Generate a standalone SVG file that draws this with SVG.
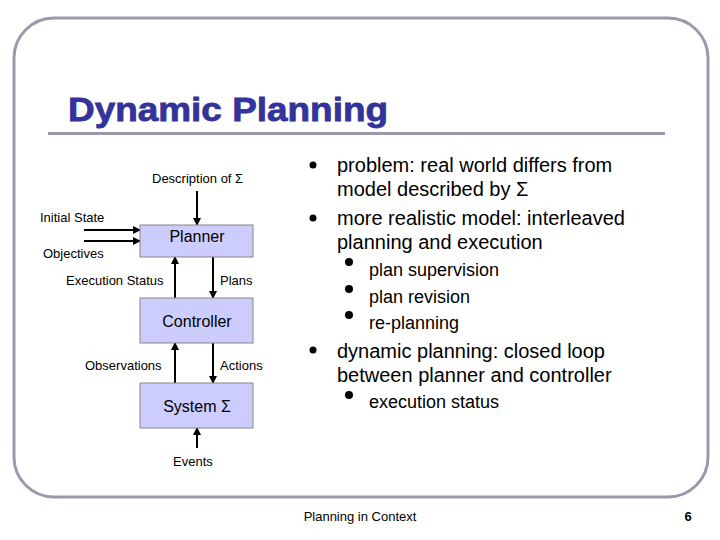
<svg xmlns="http://www.w3.org/2000/svg" width="720" height="540" viewBox="0 0 720 540">
<defs>
<marker id="ah" markerWidth="8" markerHeight="8" refX="7" refY="4" orient="auto" markerUnits="userSpaceOnUse"><path d="M0,0 L8,4 L0,8 z" fill="#000"/></marker>
<style>
.box{fill:#ccccff;stroke:#888;stroke-width:1}
.bt{font-family:"Liberation Sans",Arial,sans-serif;font-size:16px;text-anchor:middle;fill:#000}
.lb{font-family:"Liberation Sans",Arial,sans-serif;font-size:13px;fill:#000}
.b1{font-family:"Liberation Sans",Arial,sans-serif;font-size:20px;fill:#000}
.b2{font-family:"Liberation Sans",Arial,sans-serif;font-size:18px;fill:#000}
.c{stroke:#000;stroke-width:2;fill:none;marker-end:url(#ah)}
</style>
</defs>
<rect width="720" height="540" fill="#fff"/>
<rect x="14" y="18" width="694" height="479" rx="40" fill="none" stroke="#999aab" stroke-width="3"/>
<text x="68" y="121" font-family="Liberation Sans,Arial,sans-serif" font-size="33" font-weight="bold" fill="#333399" textLength="320" lengthAdjust="spacingAndGlyphs" stroke="#333399" stroke-width="0.8">Dynamic Planning</text>
<rect x="48" y="132" width="617" height="3" fill="#9999aa"/>
<g id="connectors">
<line class="c" x1="197" y1="191" x2="197" y2="225"/>
<line class="c" x1="84" y1="230" x2="140" y2="230"/>
<line class="c" x1="84" y1="241" x2="140" y2="241"/>
<line class="c" x1="175" y1="298" x2="175" y2="257"/>
<line class="c" x1="213" y1="257" x2="213" y2="298"/>
<line class="c" x1="175" y1="383" x2="175" y2="343"/>
<line class="c" x1="213" y1="343" x2="213" y2="383"/>
<line class="c" x1="197" y1="448" x2="197" y2="428"/>
</g>
<g id="planner"><rect class="box" x="140" y="225" width="113" height="32"/><text class="bt" x="197" y="242">Planner</text></g>
<g id="controller"><rect class="box" x="140" y="298" width="113" height="45"/><text class="bt" x="197" y="327">Controller</text></g>
<g id="system"><rect class="box" x="140" y="383" width="113" height="45"/><text class="bt" x="197" y="412">System Σ</text></g>
<g id="labels">
<text class="lb" x="152" y="183">Description of Σ</text>
<text class="lb" x="40" y="222">Initial State</text>
<text class="lb" x="43" y="258">Objectives</text>
<text class="lb" x="66" y="285">Execution Status</text>
<text class="lb" x="220" y="285">Plans</text>
<text class="lb" x="85" y="370">Observations</text>
<text class="lb" x="220" y="370">Actions</text>
<text class="lb" x="173" y="466">Events</text>
</g>
<g id="bullets">
<circle cx="313" cy="165" r="3.5" fill="#000"/>
<text class="b1" x="337" y="172">problem: real world differs from</text>
<text class="b1" x="337" y="196">model described by Σ</text>
<circle cx="313" cy="218" r="3.5" fill="#000"/>
<text class="b1" x="337" y="225">more realistic model: interleaved</text>
<text class="b1" x="337" y="249">planning and execution</text>
<circle cx="349" cy="262" r="4" fill="#000"/>
<text class="b2" x="369" y="276">plan supervision</text>
<circle cx="349" cy="289" r="4" fill="#000"/>
<text class="b2" x="369" y="303">plan revision</text>
<circle cx="349" cy="315" r="4" fill="#000"/>
<text class="b2" x="369" y="329">re-planning</text>
<circle cx="313" cy="350" r="3.5" fill="#000"/>
<text class="b1" x="337" y="358">dynamic planning: closed loop</text>
<text class="b1" x="337" y="382">between planner and controller</text>
<circle cx="349" cy="395" r="4" fill="#000"/>
<text class="b2" x="369" y="408">execution status</text>
</g>
<text x="360" y="521" font-family="Liberation Sans,Arial,sans-serif" font-size="13" text-anchor="middle">Planning in Context</text>
<text x="688" y="521" font-family="Liberation Sans,Arial,sans-serif" font-size="13" font-weight="bold" text-anchor="middle">6</text>
</svg>
